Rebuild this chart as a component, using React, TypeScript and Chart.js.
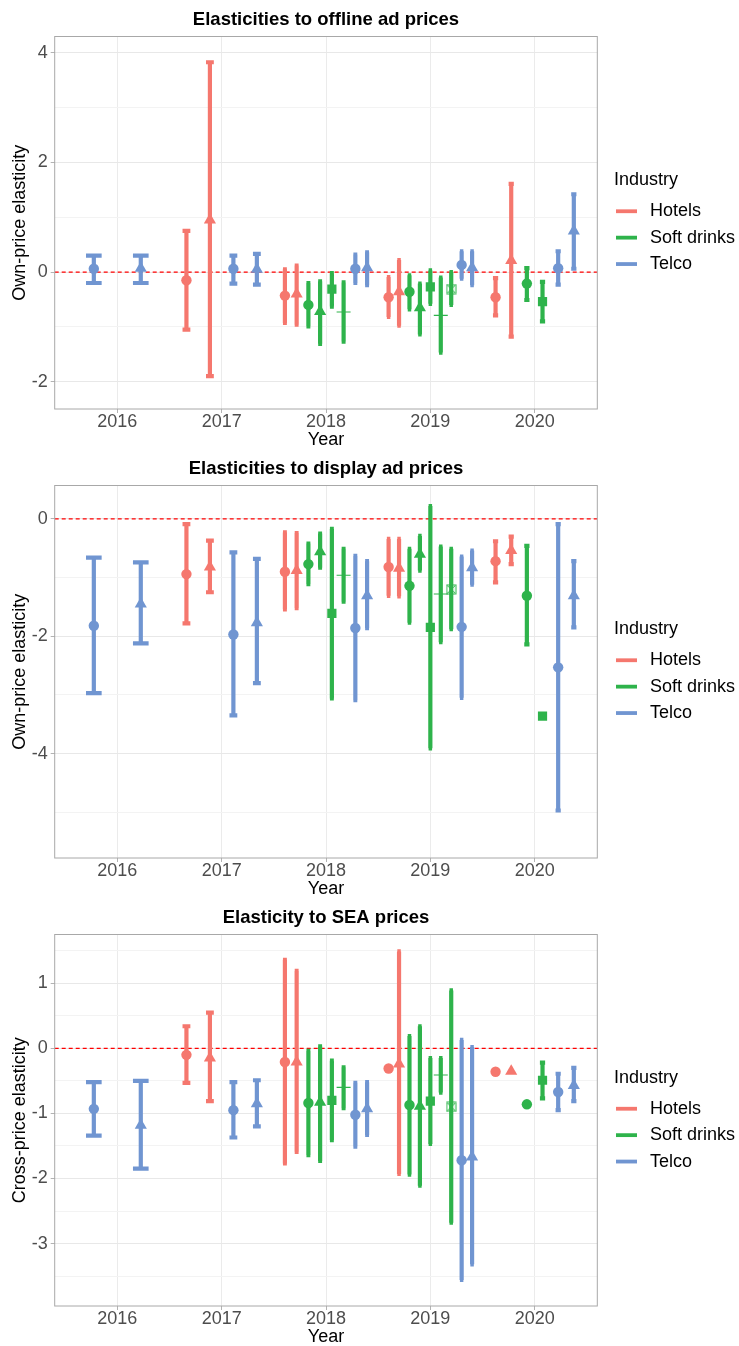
import React, { useEffect, useRef } from 'react';
import { Chart, registerables } from 'chart.js';

Chart.register(...registerables);

const FONT = '"Liberation Sans", Arial, Helvetica, sans-serif';
Chart.defaults.font.family = FONT;

// ---------------- data ----------------
const INDUSTRIES = ['Hotels', 'Soft drinks', 'Telco'];
const INDUSTRY_COLORS = ['#F5776E', '#2EB34B', '#7095D1'];
const LEGEND_TITLE = 'Industry';
const YEAR_TICKS = [2016, 2017, 2018, 2019, 2020];

// [year, industry, marker, estimate, lower, upper]
type Row = [number, string, string, number, number | null, number | null];

const OFFLINE_ROWS: Row[] = [
  [2016, 'Telco', 'circle', 0.06, -0.2, 0.3],
  [2016, 'Telco', 'triangle', 0.07, -0.2, 0.3],
  [2017, 'Hotels', 'circle', -0.15, -1.05, 0.75],
  [2017, 'Hotels', 'triangle', 0.95, -1.9, 3.83],
  [2017, 'Telco', 'circle', 0.06, -0.21, 0.3],
  [2017, 'Telco', 'triangle', 0.05, -0.23, 0.33],
  [2018, 'Hotels', 'circle', -0.43, -0.93, 0.05],
  [2018, 'Hotels', 'triangle', -0.4, -0.96, 0.12],
  [2018, 'Soft drinks', 'circle', -0.6, -0.99, -0.2],
  [2018, 'Soft drinks', 'triangle', -0.72, -1.31, -0.17],
  [2018, 'Soft drinks', 'square', -0.31, -0.63, -0.02],
  [2018, 'Soft drinks', 'plus', -0.73, -1.27, -0.19],
  [2018, 'Telco', 'circle', 0.06, -0.2, 0.32],
  [2018, 'Telco', 'triangle', 0.08, -0.24, 0.36],
  [2019, 'Hotels', 'circle', -0.46, -0.82, -0.09],
  [2019, 'Hotels', 'triangle', -0.36, -0.98, 0.22],
  [2019, 'Soft drinks', 'circle', -0.36, -0.68, -0.06],
  [2019, 'Soft drinks', 'triangle', -0.65, -1.14, -0.21],
  [2019, 'Soft drinks', 'square', -0.27, -0.58, 0.03],
  [2019, 'Soft drinks', 'plus', -0.79, -1.47, -0.1],
  [2019, 'Soft drinks', 'boxtimes', -0.31, -0.6, 0.0],
  [2019, 'Telco', 'circle', 0.13, -0.12, 0.38],
  [2019, 'Telco', 'triangle', 0.08, -0.24, 0.38],
  [2020, 'Hotels', 'circle', -0.46, -0.79, -0.11],
  [2020, 'Hotels', 'triangle', 0.21, -1.18, 1.61],
  [2020, 'Soft drinks', 'circle', -0.21, -0.51, 0.07],
  [2020, 'Soft drinks', 'square', -0.54, -0.9, -0.18],
  [2020, 'Telco', 'circle', 0.07, -0.23, 0.38],
  [2020, 'Telco', 'triangle', 0.75, 0.06, 1.42],
];

const DISPLAY_ROWS: Row[] = [
  [2016, 'Telco', 'circle', -1.82, -2.97, -0.66],
  [2016, 'Telco', 'triangle', -1.45, -2.12, -0.74],
  [2017, 'Hotels', 'circle', -0.94, -1.78, -0.09],
  [2017, 'Hotels', 'triangle', -0.82, -1.25, -0.37],
  [2017, 'Telco', 'circle', -1.97, -3.35, -0.57],
  [2017, 'Telco', 'triangle', -1.77, -2.8, -0.68],
  [2018, 'Hotels', 'circle', -0.9, -1.54, -0.23],
  [2018, 'Hotels', 'triangle', -0.88, -1.52, -0.24],
  [2018, 'Soft drinks', 'circle', -0.77, -1.11, -0.42],
  [2018, 'Soft drinks', 'triangle', -0.56, -0.83, -0.25],
  [2018, 'Soft drinks', 'square', -1.61, -3.06, -0.17],
  [2018, 'Soft drinks', 'plus', -0.96, -1.41, -0.51],
  [2018, 'Telco', 'circle', -1.86, -3.09, -0.63],
  [2018, 'Telco', 'triangle', -1.31, -1.86, -0.72],
  [2019, 'Hotels', 'circle', -0.82, -1.31, -0.34],
  [2019, 'Hotels', 'triangle', -0.84, -1.32, -0.34],
  [2019, 'Soft drinks', 'circle', -1.14, -1.77, -0.51],
  [2019, 'Soft drinks', 'triangle', -0.6, -0.88, -0.29],
  [2019, 'Soft drinks', 'square', -1.85, -3.91, 0.22],
  [2019, 'Soft drinks', 'plus', -1.28, -2.1, -0.47],
  [2019, 'Soft drinks', 'boxtimes', -1.2, -1.88, -0.51],
  [2019, 'Telco', 'circle', -1.84, -3.05, -0.64],
  [2019, 'Telco', 'triangle', -0.83, -1.12, -0.54],
  [2020, 'Hotels', 'circle', -0.72, -1.08, -0.38],
  [2020, 'Hotels', 'triangle', -0.54, -0.77, -0.3],
  [2020, 'Soft drinks', 'circle', -1.31, -2.14, -0.46],
  [2020, 'Soft drinks', 'square', -3.36, null, null],
  [2020, 'Telco', 'circle', -2.53, -4.97, -0.09],
  [2020, 'Telco', 'triangle', -1.31, -1.85, -0.72],
];

const SEA_ROWS: Row[] = [
  [2016, 'Telco', 'circle', -0.93, -1.34, -0.52],
  [2016, 'Telco', 'triangle', -1.18, -1.85, -0.5],
  [2017, 'Hotels', 'circle', -0.1, -0.53, 0.34],
  [2017, 'Hotels', 'triangle', -0.15, -0.81, 0.55],
  [2017, 'Telco', 'circle', -0.95, -1.37, -0.52],
  [2017, 'Telco', 'triangle', -0.85, -1.2, -0.49],
  [2018, 'Hotels', 'circle', -0.21, -1.77, 1.36],
  [2018, 'Hotels', 'triangle', -0.21, -1.59, 1.19],
  [2018, 'Soft drinks', 'circle', -0.84, -1.64, -0.04],
  [2018, 'Soft drinks', 'triangle', -0.83, -1.73, 0.03],
  [2018, 'Soft drinks', 'square', -0.8, -1.41, -0.19],
  [2018, 'Soft drinks', 'plus', -0.6, -0.92, -0.29],
  [2018, 'Telco', 'circle', -1.02, -1.51, -0.53],
  [2018, 'Telco', 'triangle', -0.93, -1.33, -0.52],
  [2019, 'Hotels', 'circle', -0.31, null, null],
  [2019, 'Hotels', 'triangle', -0.24, -1.93, 1.49],
  [2019, 'Soft drinks', 'circle', -0.87, -1.94, 0.19],
  [2019, 'Soft drinks', 'triangle', -0.89, -2.11, 0.34],
  [2019, 'Soft drinks', 'square', -0.81, -1.47, -0.15],
  [2019, 'Soft drinks', 'plus', -0.41, -0.68, -0.15],
  [2019, 'Soft drinks', 'boxtimes', -0.9, -2.68, 0.89],
  [2019, 'Telco', 'circle', -1.72, -3.56, 0.13],
  [2019, 'Telco', 'triangle', -1.67, -3.32, 0.02],
  [2020, 'Hotels', 'circle', -0.36, null, null],
  [2020, 'Hotels', 'triangle', -0.35, null, null],
  [2020, 'Soft drinks', 'circle', -0.86, null, null],
  [2020, 'Soft drinks', 'square', -0.49, -0.77, -0.22],
  [2020, 'Telco', 'circle', -0.67, -0.95, -0.39],
  [2020, 'Telco', 'triangle', -0.57, -0.81, -0.3],
];

const OFFLINE_Y_MAJOR = [-2, 0, 2, 4];
const OFFLINE_Y_MINOR = [-1, 1, 3];
const DISPLAY_Y_MAJOR = [-4, -2, 0];
const DISPLAY_Y_MINOR = [-5, -3, -1];
const SEA_Y_MAJOR = [-3, -2, -1, 0, 1];
const SEA_Y_MINOR = [-3.5, -2.5, -1.5, -0.5, 0.5, 1.5];

type Panel = {
  title: string;
  yTitle: string;
  rows: Row[];
  yMin: number;
  yMax: number;
  yMajor: number[];
  yMinor: number[];
  height: number;
};

const PANELS: Panel[] = [
  { title: 'Elasticities to offline ad prices', yTitle: 'Own-price elasticity', rows: OFFLINE_ROWS, yMin: -2.5, yMax: 4.3, yMajor: OFFLINE_Y_MAJOR, yMinor: OFFLINE_Y_MINOR, height: 449 },
  { title: 'Elasticities to display ad prices', yTitle: 'Own-price elasticity', rows: DISPLAY_ROWS, yMin: -5.78, yMax: 0.57, yMajor: DISPLAY_Y_MAJOR, yMinor: DISPLAY_Y_MINOR, height: 449 },
  { title: 'Elasticity to SEA prices', yTitle: 'Cross-price elasticity', rows: SEA_ROWS, yMin: -3.96, yMax: 1.75, yMajor: SEA_Y_MAJOR, yMinor: SEA_Y_MINOR, height: 448 },
];

// ---------------- helpers ----------------
const DODGE = 0.9;
const CAP = 0.3;
const X_MIN = 2015.4;
const X_MAX = 2020.6;

function buildDatasets(rows: Row[]) {
  const counts: Record<number, number> = {};
  rows.forEach((r) => { counts[r[0]] = (counts[r[0]] || 0) + 1; });
  const seen: Record<number, number> = {};
  const points = rows.map((r) => {
    const [year, industry, shape, est, lo, hi] = r;
    const n = counts[year];
    const i = seen[year] || 0;
    seen[year] = i + 1;
    const x = year - DODGE / 2 + (DODGE * (i + 0.5)) / n;
    return { x, y: est, lo, hi, shape, industry, capW: CAP / n };
  });
  return INDUSTRIES.map((name, k) => ({
    label: name,
    data: points.filter((p) => p.industry === name),
    backgroundColor: INDUSTRY_COLORS[k],
    borderColor: INDUSTRY_COLORS[k],
  }));
}

const boxCache: Record<string, HTMLCanvasElement> = {};
function boxTimes(color: string) {
  if (boxCache[color]) return boxCache[color];
  const c = document.createElement('canvas');
  c.width = 11;
  c.height = 11;
  const g = c.getContext('2d')!;
  g.strokeStyle = color;
  g.lineWidth = 1;
  g.strokeRect(1, 1, 9, 9);
  g.beginPath();
  g.moveTo(1.5, 1.5); g.lineTo(9.5, 9.5);
  g.moveTo(9.5, 1.5); g.lineTo(1.5, 9.5);
  g.stroke();
  boxCache[color] = c;
  return c;
}

const STYLE_OF: Record<string, string> = { circle: 'circle', triangle: 'triangle', square: 'rect', plus: 'cross' };
const RADIUS_OF: Record<string, number> = { circle: 5.2, triangle: 7, square: 6.5, plus: 7, boxtimes: 5.5 };

const decor = {
  id: 'ggDecor',
  beforeDatasetsDraw(chart: any) {
    const { ctx, chartArea: a, scales } = chart;
    const xs = scales.x;
    const ys = scales.y;
    ctx.save();
    ctx.beginPath();
    ctx.rect(a.left, a.top, a.right - a.left, a.bottom - a.top);
    ctx.clip();
    const y0 = ys.getPixelForValue(0);
    ctx.strokeStyle = '#FF0000';
    ctx.lineWidth = 1.2;
    ctx.setLineDash([4, 3]);
    ctx.beginPath();
    ctx.moveTo(a.left, y0);
    ctx.lineTo(a.right, y0);
    ctx.stroke();
    ctx.setLineDash([]);
    ctx.lineCap = 'butt';
    chart.data.datasets.forEach((ds: any) => {
      ctx.strokeStyle = ds.borderColor;
      ctx.lineWidth = 4.2;
      ds.data.forEach((p: any) => {
        if (p.lo == null || p.hi == null) return;
        const px = xs.getPixelForValue(p.x);
        const half = xs.getPixelForValue(p.x + p.capW / 2) - px;
        const yl = ys.getPixelForValue(p.lo);
        const yh = ys.getPixelForValue(p.hi);
        ctx.beginPath();
        ctx.moveTo(px, yl); ctx.lineTo(px, yh);
        ctx.moveTo(px - half, yl); ctx.lineTo(px + half, yl);
        ctx.moveTo(px - half, yh); ctx.lineTo(px + half, yh);
        ctx.stroke();
      });
    });
    ctx.restore();
  },
  afterDraw(chart: any) {
    const { ctx, chartArea: a } = chart;
    ctx.save();
    ctx.strokeStyle = '#A8A8A8';
    ctx.lineWidth = 1;
    ctx.strokeRect(a.left, a.top, a.right - a.left, a.bottom - a.top);
    const cy = (a.top + a.bottom) / 2;
    const lx = a.right;
    ctx.font = `18px ${FONT}`;
    ctx.fillStyle = '#000';
    ctx.textAlign = 'left';
    ctx.textBaseline = 'middle';
    ctx.fillText(LEGEND_TITLE, lx + 16.7, cy - 42.5);
    INDUSTRIES.forEach((name, i) => {
      const yy = cy - 11.5 + i * 26.4;
      ctx.strokeStyle = INDUSTRY_COLORS[i];
      ctx.lineWidth = 3.8;
      ctx.beginPath();
      ctx.moveTo(lx + 18.7, yy);
      ctx.lineTo(lx + 39.7, yy);
      ctx.stroke();
      ctx.fillStyle = '#000';
      ctx.fillText(name, lx + 52.7, yy);
    });
    ctx.restore();
  },
};

function makeConfig(p: Panel): any {
  const majorSet = new Set(p.yMajor);
  const allY = [...p.yMajor, ...p.yMinor].sort((u, v) => u - v);
  return {
    type: 'scatter',
    data: { datasets: buildDatasets(p.rows) },
    options: {
      responsive: false,
      animation: false,
      devicePixelRatio: 1,
      events: [],
      layout: { padding: { left: 0, right: 141.7, top: 0, bottom: 0 } },
      elements: {
        point: {
          pointStyle: (c: any) => {
            const s = c.raw ? c.raw.shape : 'circle';
            if (s === 'boxtimes') return boxTimes(c.dataset.borderColor);
            return STYLE_OF[s] || 'circle';
          },
          radius: (c: any) => (c.raw ? RADIUS_OF[c.raw.shape] : 5.2),
          borderWidth: (c: any) => (c.raw && c.raw.shape === 'plus' ? 1.1 : 0),
        },
      },
      plugins: {
        legend: { display: false },
        tooltip: { enabled: false },
        title: {
          display: true,
          text: p.title,
          fullSize: false,
          color: '#000',
          font: { size: 18.5, weight: 'bold', family: FONT, lineHeight: 1.2 },
          padding: { top: 9.3, bottom: 5.0 },
        },
      },
      scales: {
        x: {
          type: 'linear',
          position: 'bottom',
          min: X_MIN,
          max: X_MAX,
          bounds: 'data',
          afterFit: (s: any) => { s.height = 40; },
          afterBuildTicks: (s: any) => { s.ticks = YEAR_TICKS.map((v) => ({ value: v })); },
          ticks: {
            autoSkip: false,
            maxRotation: 0,
            padding: -2.0,
            color: '#4D4D4D',
            font: { size: 18, family: FONT },
            callback: (v: any) => String(v),
          },
          grid: { color: '#EBEBEB', lineWidth: 1, tickLength: 4, tickColor: '#B3B3B3' },
          border: { display: false },
          title: {
            display: true,
            text: 'Year',
            color: '#000',
            font: { size: 18, family: FONT, lineHeight: 1.2 },
            padding: { top: 0, bottom: -1.8 },
          },
        },
        y: {
          type: 'linear',
          position: 'left',
          min: p.yMin,
          max: p.yMax,
          bounds: 'data',
          afterFit: (s: any) => { s.width = 54.7; },
          afterBuildTicks: (s: any) => { s.ticks = allY.map((v) => ({ value: v })); },
          ticks: {
            autoSkip: false,
            padding: 3,
            color: '#4D4D4D',
            font: { size: 18, family: FONT },
            callback: (v: any) => (majorSet.has(v) ? String(v) : ''),
          },
          grid: {
            color: (c: any) => (c.tick && majorSet.has(c.tick.value) ? '#E8E8E8' : '#F3F3F3'),
            lineWidth: 1,
            tickLength: 4,
            tickColor: (c: any) => (c.tick && majorSet.has(c.tick.value) ? '#B3B3B3' : 'rgba(0,0,0,0)'),
          },
          border: { display: false },
          title: {
            display: true,
            text: p.yTitle,
            color: '#000',
            font: { size: 18, family: FONT, lineHeight: 1.2 },
            padding: { top: 9.7, bottom: 0 },
          },
        },
      },
    },
    plugins: [decor],
  };
}

function PanelChart({ panel }: { panel: Panel }) {
  const ref = useRef<HTMLCanvasElement | null>(null);
  useEffect(() => {
    if (!ref.current) return;
    const chart = new Chart(ref.current, makeConfig(panel));
    return () => chart.destroy();
  }, [panel]);
  return (
    <canvas
      ref={ref}
      width={739}
      height={panel.height}
      style={{ display: 'block', width: 739, height: panel.height }}
    />
  );
}

export default function App() {
  return (
    <div style={{ position: 'absolute', left: 0, top: 0, width: 739, height: 1346, background: '#fff', overflow: 'hidden' }}>
      {PANELS.map((p) => (
        <PanelChart key={p.title} panel={p} />
      ))}
    </div>
  );
}
